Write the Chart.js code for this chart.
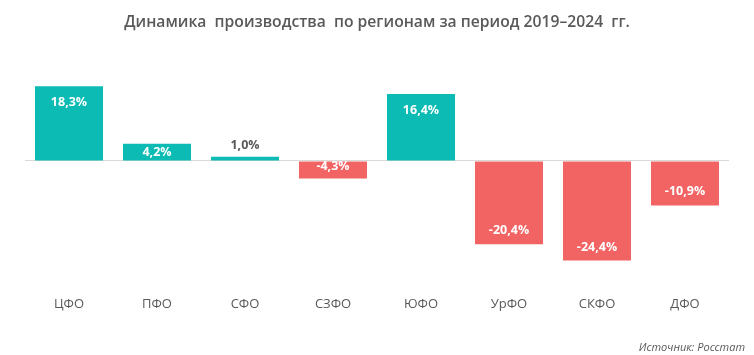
<!DOCTYPE html>
<html>
<head>
<meta charset="utf-8">
<script src="https://cdn.jsdelivr.net/npm/chart.js@4"></script>
<style>
html,body{margin:0;padding:0;background:#fff;}
#wrap{width:754px;height:355px;position:relative;}
</style>
</head>
<body>
<div id="wrap"><canvas id="c" width="754" height="355"></canvas></div>
<script>
const categories = ['ЦФО','ПФО','СФО','СЗФО','ЮФО','УрФО','СКФО','ДФО'];
const values = [18.3, 4.2, 1.0, -4.3, 16.4, -20.4, -24.4, -10.9];
const titleText = 'Динамика  производства  по регионам за период 2019–2024  гг.';
const sourceText = 'Источник: Росстат';

const POS = '#0BBBB4', NEG = '#F26463', GRAY = '#595959';
const FONT = "'Open Sans', 'Noto Sans', sans-serif";

const fmt = v => v.toFixed(1).replace('.', ',') + '%';

const labelPlugin = {
  id: 'barLabels',
  afterDatasetsDraw(chart) {
    const ctx = chart.ctx;
    const meta = chart.getDatasetMeta(0);
    ctx.save();
    ctx.font = "bold 12.5px " + FONT;
    ctx.textAlign = 'center';
    ctx.textBaseline = 'middle';
    meta.data.forEach((bar, i) => {
      const v = values[i];
      const top = Math.min(bar.y, bar.base), bot = Math.max(bar.y, bar.base);
      const h = bot - top;
      let y, color = '#fff';
      if (h < 12) {
        y = v >= 0 ? bar.y - 11.5 : bar.y + 11.5;
        color = GRAY;
      } else if (v >= 0) {
        y = Math.min(bar.y + 16, (bar.y + bar.base) / 2);
      } else {
        y = Math.max(bar.base + 5, bar.y - 13.5);
      }
      ctx.fillStyle = color;
      ctx.fillText(fmt(v), bar.x, y);
    });
    ctx.restore();
  }
};

const sourcePlugin = {
  id: 'sourceNote',
  afterDraw(chart) {
    const ctx = chart.ctx;
    ctx.save();
    ctx.font = "italic 11px " + FONT;
    ctx.fillStyle = GRAY;
    ctx.textAlign = 'right';
    ctx.textBaseline = 'middle';
    ctx.fillText(sourceText, 745, 348);
    ctx.restore();
  }
};

new Chart(document.getElementById('c'), {
  type: 'bar',
  data: {
    labels: categories,
    datasets: [{
      data: values,
      backgroundColor: values.map(v => v >= 0 ? POS : NEG),
      borderWidth: 0,
      categoryPercentage: 1,
      barPercentage: 0.773
    }]
  },
  options: {
    responsive: false,
    animation: false,
    layout: { padding: { top: 0, left: 25, right: 25, bottom: 30 } },
    plugins: {
      legend: { display: false },
      tooltip: { enabled: false },
      title: {
        display: true,
        text: titleText,
        color: GRAY,
        font: { family: FONT, size: 15.7, weight: '600' },
        padding: { top: 13, bottom: 27 }
      }
    },
    scales: {
      x: {
        grid: { display: false, drawTicks: false },
        border: { display: false },
        ticks: { color: GRAY, font: { family: FONT, size: 13 }, padding: 13 }
      },
      y: {
        min: -30, max: 25,
        ticks: { display: false, stepSize: 5 },
        border: { display: false },
        grid: {
          drawTicks: false,
          color: c => (c.tick && c.tick.value === 0) ? '#D9D9D9' : 'rgba(0,0,0,0)',
          lineWidth: 1
        }
      }
    }
  },
  plugins: [labelPlugin, sourcePlugin]
});
</script>
</body>
</html>
